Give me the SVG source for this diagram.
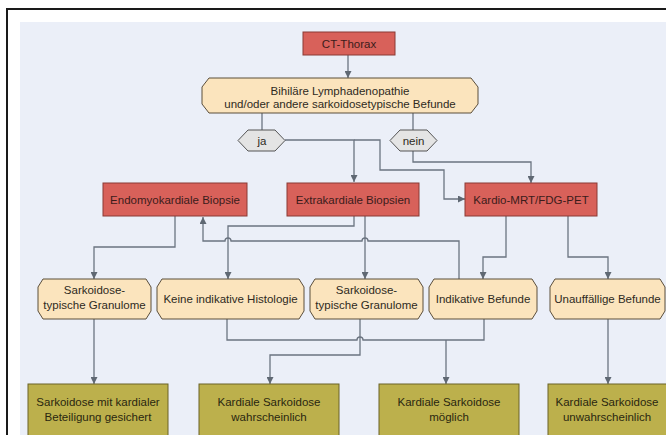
<svg xmlns="http://www.w3.org/2000/svg" width="666" height="435" viewBox="0 0 666 435">
<defs>
<marker id="ah" viewBox="0 0 7 7" refX="7" refY="3.5" markerWidth="7" markerHeight="7" markerUnits="userSpaceOnUse" orient="auto">
<path d="M0,0 L7,3.5 L0,7 z" fill="#5f6873"/>
</marker>
<style>
.red{fill:#d8615a;stroke:#8a3b34;stroke-width:1}
.beige{fill:#fbe4bd;stroke:#5b4e3b;stroke-width:1}
.olive{fill:#bcb04c;stroke:#6a6326;stroke-width:1}
.hex{fill:#e4e4e4;stroke:#555;stroke-width:1}
.t{font-family:"Liberation Sans",Arial,sans-serif;font-size:11.5px;text-anchor:middle}
.tr{fill:#3b1c1a}
.tb{fill:#2e2a22}
.to{fill:#2a2710}
.c{fill:none;stroke:#6b7480;stroke-width:1.3}
.ca{fill:none;stroke:#6b7480;stroke-width:1.3;marker-end:url(#ah)}
</style>
</defs>
<rect x="0" y="0" width="666" height="435" fill="#ffffff"/>
<rect x="20" y="22" width="646" height="413" fill="#ebeff8"/>
<path d="M7,435 V9 H666" fill="none" stroke="#1a1a1a" stroke-width="2"/>

<g id="connectors">
<path class="ca" d="M348,55 V78"/>
<path class="c" d="M262,113 V130"/>
<path class="c" d="M413,113 V130"/>
<path class="ca" d="M285,140 H354 V182"/>
<path class="ca" d="M354,140 H380 V170 H444 V199 H465"/>
<path class="ca" d="M413,151 V162 H531 V183"/>
<path class="ca" d="M175,216 V247 H94 V279"/>
<path class="ca" d="M459,279 V241 H368 A3,3 0 0 0 362,241 H231 A3,3 0 0 0 225,241 H203 V217"/>
<path class="ca" d="M354,216 V226 H228 V279"/>
<path class="ca" d="M365,216 V279"/>
<path class="ca" d="M506,216 V257 H483 V279"/>
<path class="ca" d="M568,216 V257 H608 V279"/>
<path class="ca" d="M94,319 V384"/>
<path class="c" d="M227,319 V340 H357 A3,3 0 0 1 363,340 H484 V319"/>
<path class="ca" d="M446,340 V384"/>
<path class="ca" d="M360,319 V355 H270 V384"/>
<path class="ca" d="M608,319 V384"/>
</g>

<g id="ct-thorax">
<rect class="red" x="303" y="32" width="92" height="23"/>
<text class="t tr" x="349" y="47.5">CT-Thorax</text>
</g>

<g id="bihilaere">
<path class="beige" d="M209,78 H471 L478,87 V104 L471,113 H209 L202,104 V87 Z"/>
<text class="t tb" x="340" y="94.5">Bihiläre Lymphadenopathie</text>
<text class="t tb" x="340" y="107.5">und/oder andere sarkoidosetypische Befunde</text>
</g>

<g id="ja">
<path class="hex" d="M238,140.5 L248,130 H275 L285,140.5 L275,151 H248 Z"/>
<text class="t tb" x="262" y="144.5">ja</text>
</g>

<g id="nein">
<path class="hex" d="M390,140.5 L400,130 H427 L437,140.5 L427,151 H400 Z"/>
<text class="t tb" x="413.5" y="144.5">nein</text>
</g>

<g id="endomyokardiale-biopsie">
<rect class="red" x="103" y="183" width="144" height="33"/>
<text class="t tr" x="175" y="203.5">Endomyokardiale Biopsie</text>
</g>

<g id="extrakardiale-biopsien">
<rect class="red" x="287" y="183" width="132" height="33"/>
<text class="t tr" x="353" y="203.5">Extrakardiale Biopsien</text>
</g>

<g id="kardio-mrt">
<rect class="red" x="465" y="183" width="132" height="33"/>
<text class="t tr" x="531" y="203.5">Kardio-MRT/FDG-PET</text>
</g>

<g id="granulome-1">
<path class="beige" d="M43,279 H146 L151,287 V311 L146,319 H43 L38,311 V287 Z"/>
<text class="t tb" x="94.5" y="294">Sarkoidose-</text>
<text class="t tb" x="94.5" y="308.5">typische Granulome</text>
</g>

<g id="keine-histologie">
<path class="beige" d="M162,279 H299 L304,287 V311 L299,319 H162 L157,311 V287 Z"/>
<text class="t tb" x="230.5" y="303">Keine indikative Histologie</text>
</g>

<g id="granulome-2">
<path class="beige" d="M315,279 H418 L423,287 V311 L418,319 H315 L310,311 V287 Z"/>
<text class="t tb" x="366.5" y="294">Sarkoidose-</text>
<text class="t tb" x="366.5" y="308.5">typische Granulome</text>
</g>

<g id="indikative-befunde">
<path class="beige" d="M434,279 H532 L537,287 V311 L532,319 H434 L429,311 V287 Z"/>
<text class="t tb" x="483" y="303">Indikative Befunde</text>
</g>

<g id="unauffaellige-befunde">
<path class="beige" d="M555,279 H660 L665,287 V311 L660,319 H555 L550,311 V287 Z"/>
<text class="t tb" x="607.5" y="303">Unauffällige Befunde</text>
</g>

<g id="gesichert">
<rect class="olive" x="28" y="384" width="140" height="56"/>
<text class="t to" x="98" y="406">Sarkoidose mit kardialer</text>
<text class="t to" x="98" y="421">Beteiligung gesichert</text>
</g>

<g id="wahrscheinlich">
<rect class="olive" x="199" y="384" width="140" height="56"/>
<text class="t to" x="269" y="406">Kardiale Sarkoidose</text>
<text class="t to" x="269" y="421">wahrscheinlich</text>
</g>

<g id="moeglich">
<rect class="olive" x="379" y="384" width="140" height="56"/>
<text class="t to" x="449" y="406">Kardiale Sarkoidose</text>
<text class="t to" x="449" y="421">möglich</text>
</g>

<g id="unwahrscheinlich">
<rect class="olive" x="548" y="384" width="122" height="56"/>
<text class="t to" x="607" y="406">Kardiale Sarkoidose</text>
<text class="t to" x="607" y="421">unwahrscheinlich</text>
</g>
</svg>
